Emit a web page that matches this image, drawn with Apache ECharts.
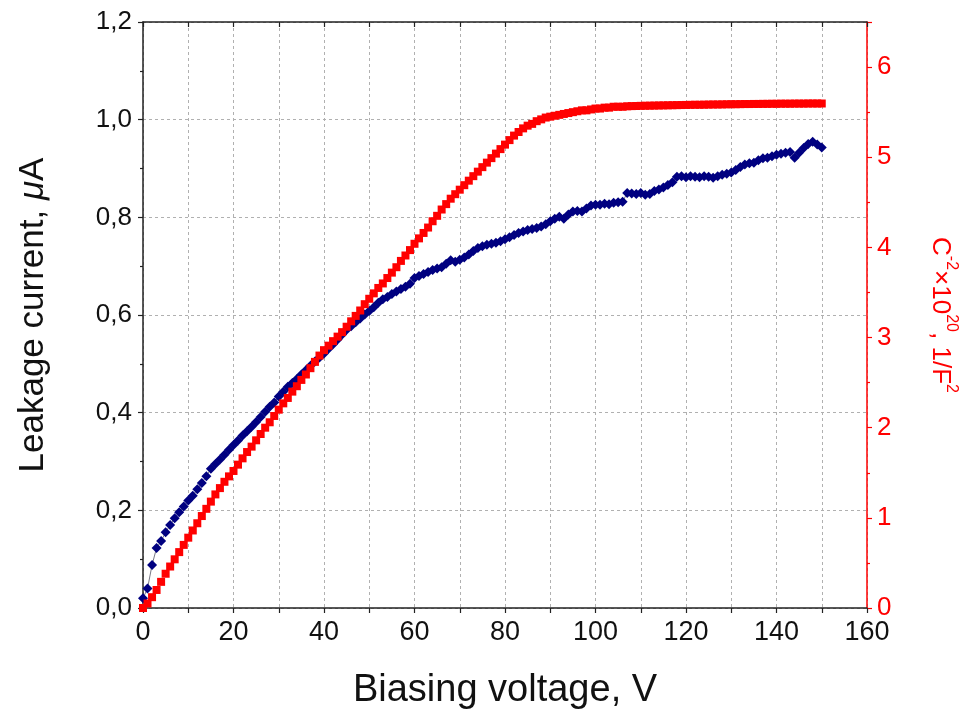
<!DOCTYPE html>
<html>
<head>
<meta charset="utf-8">
<script src="https://cdn.jsdelivr.net/npm/echarts@6/dist/echarts.min.js"></script>
<style>html,body{margin:0;padding:0;background:#fff}#c{width:968px;height:715px}</style>
</head>
<body>
<div id="c"></div>
<script>
// Biasing voltage, V (0..150)
const voltage = [];
for (let v = 0; v <= 150; v++) voltage.push(v);

// Leakage current, µA (left axis)
const leakage = [
0.020,0.040,0.088,0.123,0.137,0.155,0.170,0.184,0.196,0.208,
0.220,0.230,0.243,0.256,0.270,0.285,0.295,0.304,0.314,0.324,
0.334,0.343,0.353,0.362,0.371,0.381,0.391,0.402,0.412,0.421,
0.433,0.443,0.453,0.461,0.469,0.478,0.487,0.496,0.505,0.513,
0.521,0.531,0.540,0.550,0.560,0.570,0.577,0.585,0.593,0.601,
0.608,0.616,0.625,0.632,0.637,0.643,0.648,0.653,0.658,0.664,
0.676,0.680,0.684,0.688,0.692,0.695,0.698,0.705,0.712,0.709,
0.713,0.718,0.724,0.731,0.737,0.741,0.744,0.746,0.748,0.751,
0.755,0.759,0.764,0.768,0.771,0.774,0.776,0.778,0.781,0.786,
0.792,0.797,0.801,0.797,0.806,0.812,0.813,0.812,0.818,0.824,
0.826,0.826,0.828,0.827,0.830,0.831,0.832,0.850,0.849,0.848,
0.850,0.846,0.848,0.854,0.857,0.861,0.866,0.872,0.883,0.884,
0.882,0.884,0.883,0.882,0.884,0.883,0.881,0.884,0.887,0.889,
0.892,0.897,0.903,0.908,0.911,0.912,0.917,0.921,0.922,0.925,
0.928,0.930,0.932,0.934,0.922,0.932,0.942,0.950,0.955,0.949,
0.943
];

// C^-2 x 10^20, 1/F^2 (right axis)
const invCap2 = [
0.00,0.05,0.12,0.20,0.29,0.38,0.46,0.54,0.62,0.70,
0.78,0.86,0.94,1.02,1.10,1.18,1.26,1.33,1.40,1.46,
1.52,1.59,1.66,1.73,1.79,1.86,1.93,2.00,2.06,2.13,
2.20,2.27,2.33,2.40,2.46,2.53,2.59,2.66,2.73,2.80,
2.86,2.91,2.96,3.01,3.06,3.12,3.18,3.24,3.30,3.37,
3.43,3.49,3.55,3.60,3.66,3.72,3.78,3.85,3.91,3.97,
4.04,4.10,4.16,4.22,4.29,4.35,4.42,4.48,4.54,4.59,
4.64,4.69,4.74,4.79,4.84,4.89,4.94,4.99,5.04,5.09,
5.14,5.19,5.24,5.28,5.32,5.35,5.37,5.40,5.42,5.44,
5.45,5.46,5.47,5.48,5.49,5.50,5.51,5.52,5.52,5.53,
5.54,5.54,5.55,5.55,5.56,5.56,5.56,5.565,5.567,5.568,
5.570,5.571,5.572,5.573,5.574,5.575,5.576,5.577,5.578,5.579,
5.580,5.581,5.582,5.582,5.583,5.584,5.585,5.585,5.586,5.587,
5.588,5.588,5.589,5.590,5.590,5.591,5.591,5.592,5.592,5.593,
5.593,5.594,5.594,5.594,5.595,5.595,5.595,5.596,5.596,5.596,
5.596
];

const xTicks = { min: 0, max: 160, interval: 20 };
const leftTicks = { min: 0, max: 1.2, interval: 0.2 };
const rightTicks = { min: 0, max: 6.5, interval: 1 };

const font = 'Liberation Sans, Arial, sans-serif';
const gridLine = { show: true, lineStyle: { color: '#b0b0b0', width: 1, type: [3, 3] } };

const chart = echarts.init(document.getElementById('c'), null, { renderer: 'canvas' });
chart.setOption({
  animation: false,
  backgroundColor: '#fff',
  grid: { left: 143, right: 101, top: 22, bottom: 106, containLabel: false },
  xAxis: [{
    type: 'value', position: 'bottom',
    min: xTicks.min, max: xTicks.max, interval: xTicks.interval,
    name: 'Biasing voltage, V', nameLocation: 'middle', nameGap: 64,
    nameTextStyle: { fontFamily: font, fontSize: 38, color: '#111' },
    axisLine: { show: true, onZero: false, lineStyle: { color: '#222', width: 1.5 } },
    axisTick: { show: true, inside: false, length: 5, lineStyle: { color: '#222', width: 1.2 } },
    minorTick: { show: true, splitNumber: 2, length: 5, lineStyle: { color: '#222', width: 1.2 } },
    axisLabel: { fontFamily: font, fontSize: 27, color: '#111', margin: 11 },
    splitLine: gridLine,
    minorSplitLine: gridLine
  }, {
    type: 'value', position: 'top',
    min: xTicks.min, max: xTicks.max, interval: xTicks.interval,
    axisLine: { show: true, onZero: false, lineStyle: { color: '#222', width: 1.5 } },
    axisTick: { show: true, inside: true, length: 5, lineStyle: { color: '#222', width: 1.2 } },
    minorTick: { show: true, splitNumber: 2, length: 5, lineStyle: { color: '#222', width: 1.2 } },
    axisLabel: { show: false },
    splitLine: { show: false }
  }],
  yAxis: [{
    type: 'value', position: 'left',
    min: leftTicks.min, max: leftTicks.max, interval: leftTicks.interval,
    name: '{a|Leakage current, }{b|μ}{a|A}', nameLocation: 'middle', nameGap: 92, nameRotate: 90,
    nameTextStyle: {
      rich: {
        a: { fontFamily: font, fontSize: 35, color: '#111' },
        b: { fontFamily: font, fontSize: 35, color: '#111', fontStyle: 'italic' }
      }
    },
    axisLine: { show: true, onZero: false, lineStyle: { color: '#222', width: 1.5 } },
    axisTick: { show: true, inside: false, length: 5, lineStyle: { color: '#222', width: 1.2 } },
    minorTick: { show: true, splitNumber: 2, length: 3, lineStyle: { color: '#222', width: 1.2 } },
    axisLabel: {
      fontFamily: font, fontSize: 26, color: '#111', margin: 11,
      formatter: v => v.toFixed(1).replace('.', ',')
    },
    splitLine: gridLine
  }, {
    type: 'value', position: 'right',
    min: rightTicks.min, max: rightTicks.max, interval: rightTicks.interval,
    name: '{n|C}{s|-2}{n|×10}{s|20}{n|, 1/F}{s|2}', nameLocation: 'middle', nameGap: 60, nameRotate: -90,
    nameTextStyle: {
      rich: {
        n: { fontFamily: font, fontSize: 26, color: '#ff0000', verticalAlign: 'bottom', lineHeight: 32 },
        s: { fontFamily: font, fontSize: 16, color: '#ff0000', verticalAlign: 'top', lineHeight: 32 }
      }
    },
    axisLine: { show: true, onZero: false, lineStyle: { color: '#ff0000', width: 1.5 } },
    axisTick: { show: true, inside: false, length: 5, lineStyle: { color: '#ff0000', width: 1.2 } },
    minorTick: { show: true, splitNumber: 2, length: 3, lineStyle: { color: '#ff0000', width: 1.2 } },
    axisLabel: {
      fontFamily: font, fontSize: 26, color: '#ff0000', margin: 10,
      formatter: v => (Number.isInteger(v) ? String(v) : '')
    },
    splitLine: { show: false }
  }],
  series: [{
    type: 'line', xAxisIndex: 0, yAxisIndex: 0,
    data: voltage.map((v, i) => [v, leakage[i]]),
    symbol: 'diamond', symbolSize: 10, showAllSymbol: true,
    itemStyle: { color: '#000080' },
    lineStyle: { color: '#555566', width: 0.8 }
  }, {
    type: 'line', xAxisIndex: 0, yAxisIndex: 1,
    data: voltage.map((v, i) => [v, invCap2[i]]),
    symbol: 'rect', symbolSize: 8, showAllSymbol: true,
    itemStyle: { color: '#ff0000' },
    lineStyle: { width: 0 }
  }]
});
</script>
</body>
</html>
